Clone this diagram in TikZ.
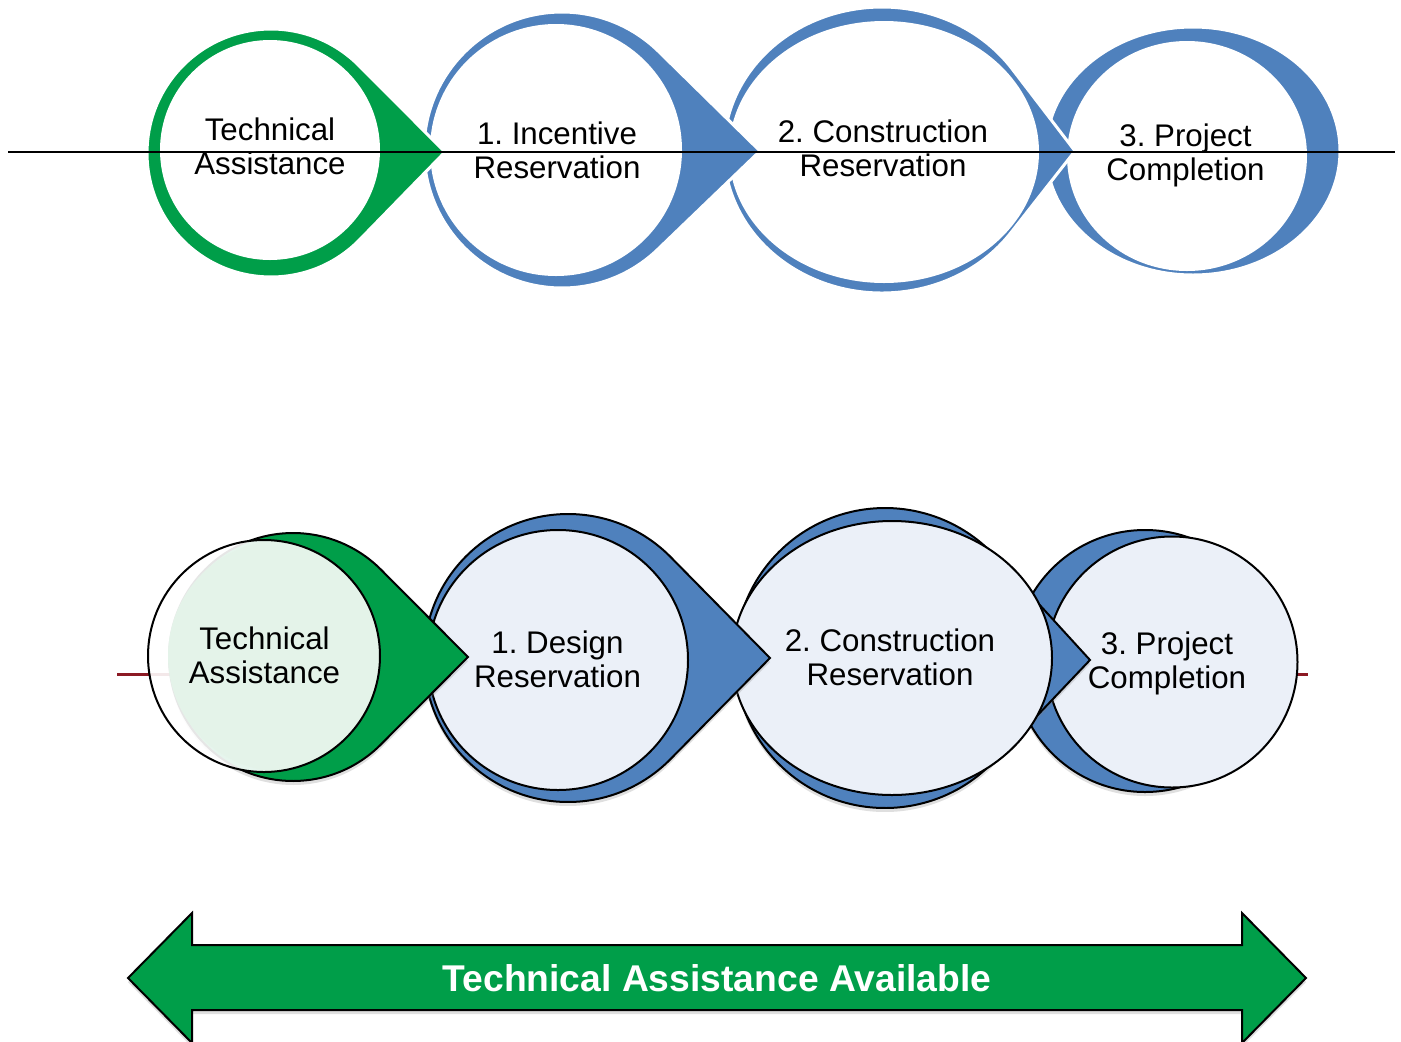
\documentclass[tikz,border=0pt]{standalone}
\usepackage{fontspec}
\setmainfont{Liberation Sans}
\frenchspacing
\usetikzlibrary{shadows}
\definecolor{tagreen}{RGB}{0,158,73}
\definecolor{stepblue}{RGB}{79,129,189}
\definecolor{paleblue}{RGB}{235,240,248}
\definecolor{palegreen}{RGB}{228,243,233}
\definecolor{axisred}{RGB}{140,26,36}

\begin{document}
\begin{tikzpicture}[x=0.02cm,y=-0.02cm,
	steptext/.style={align=center,inner sep=0,font=\fontsize{17.8}{19.4}\selectfont},
	toprow/.style={draw=white,line width=0.06cm},
	lowrow/.style={draw=black,line width=0.04cm},
	lowshadow/.style={drop shadow={shadow xshift=0cm,shadow yshift=-0.08cm,opacity=0.25}}]
	\useasboundingbox[fill=white] (0,0) rectangle (1401,1042);
	\path[fill=stepblue,toprow] (1193,151) ellipse[x radius=147,y radius=124];
	\fill[white] (1187,156) ellipse[x radius=120,y radius=115];
	\path[fill=stepblue,toprow] ([shift={(882,150)}]35.05:158 and 143) arc[start angle=35.05,end angle=324.95,x radius=158,y radius=143] -- (1075,151) -- cycle;
	\fill[white] (884,152) ellipse[x radius=155,y radius=131];
	\path[fill=stepblue,toprow] ([shift={(562,150)}]45.82:138) arc[start angle=45.82,end angle=314.18,radius=138] -- (760,151) -- cycle;
	\fill[white] (556,150) circle[radius=126];
	\path[fill=tagreen,toprow] ([shift={(271,153)}]44.55:124) arc[start angle=44.55,end angle=315.45,radius=124] -- (445,152) -- cycle;
	\fill[white] (270,150) circle[radius=110];
	\coordinate (axl) at (8,152);
	\coordinate (axr) at (1395,152);
	\draw[line width=0.05cm] (axl) -- (axr);
	\node[steptext] (t0) at (270,146.5) {Technical\\Assistance};
	\node[steptext] (t1) at (557,150) {1. Incentive\\Reservation};
	\node[steptext] (t2) at (883,148.5) {2. Construction\\Reservation};
	\node[steptext] (t3) at (1185.5,155) {3. Project\\Completion};
	\coordinate (rl) at (117,674);
	\coordinate (rr) at (1308,674);
	\draw[axisred,line width=0.06cm] (rl) -- (rr);
	\path[fill=stepblue,lowrow,lowshadow] (1145,661) circle[radius=131];
	\path[fill=paleblue,lowrow] (1172,662) circle[radius=125.5];
	\path[fill=stepblue,lowrow,lowshadow] ([shift={(885,658)}]42.97:150) arc[start angle=42.97,end angle=317.03,radius=150] -- (1090,660) -- cycle;
	\path[fill=paleblue,lowrow] (892,658) ellipse[x radius=160,y radius=137];
	\path[fill=stepblue,lowrow,lowshadow] ([shift={(568,658)}]44.53:144) arc[start angle=44.53,end angle=315.47,radius=144] -- (770,658) -- cycle;
	\path[fill=paleblue,lowrow] (558,660) circle[radius=130];
	\path[fill=tagreen,lowrow,lowshadow] ([shift={(293,657)}]44.89:124) arc[start angle=44.89,end angle=315.11,radius=124] -- (468,657) -- cycle;
	\fill[white,opacity=0.9] (264,656) circle[radius=116];
	\begin{scope}
		\clip (264,656) circle[radius=116];
		\fill[palegreen] (284,656) circle[radius=116];
	\end{scope}
	\draw[lowrow] (264,656) circle[radius=116];
	\node[steptext] (b0) at (264.5,655.5) {Technical\\Assistance};
	\node[steptext] (b1) at (557.5,659.5) {1. Design\\Reservation};
	\node[steptext] (b2) at (890,657.5) {2. Construction\\Reservation};
	\node[steptext] (b3) at (1167,663) {3. Project\\Completion};
	\path[fill=tagreen,lowrow,lowshadow] (128,978) -- (192,913) -- (192,945) -- (1242,945) -- (1242,913) -- (1306,978) -- (1242,1043) -- (1242,1010) -- (192,1010) -- (192,1043) -- cycle;
	\node[font=\bfseries\fontsize{21.2}{24}\selectfont,text=white,inner sep=0] (ta) at (717,978) {Technical Assistance Available};
\end{tikzpicture}
\end{document}
